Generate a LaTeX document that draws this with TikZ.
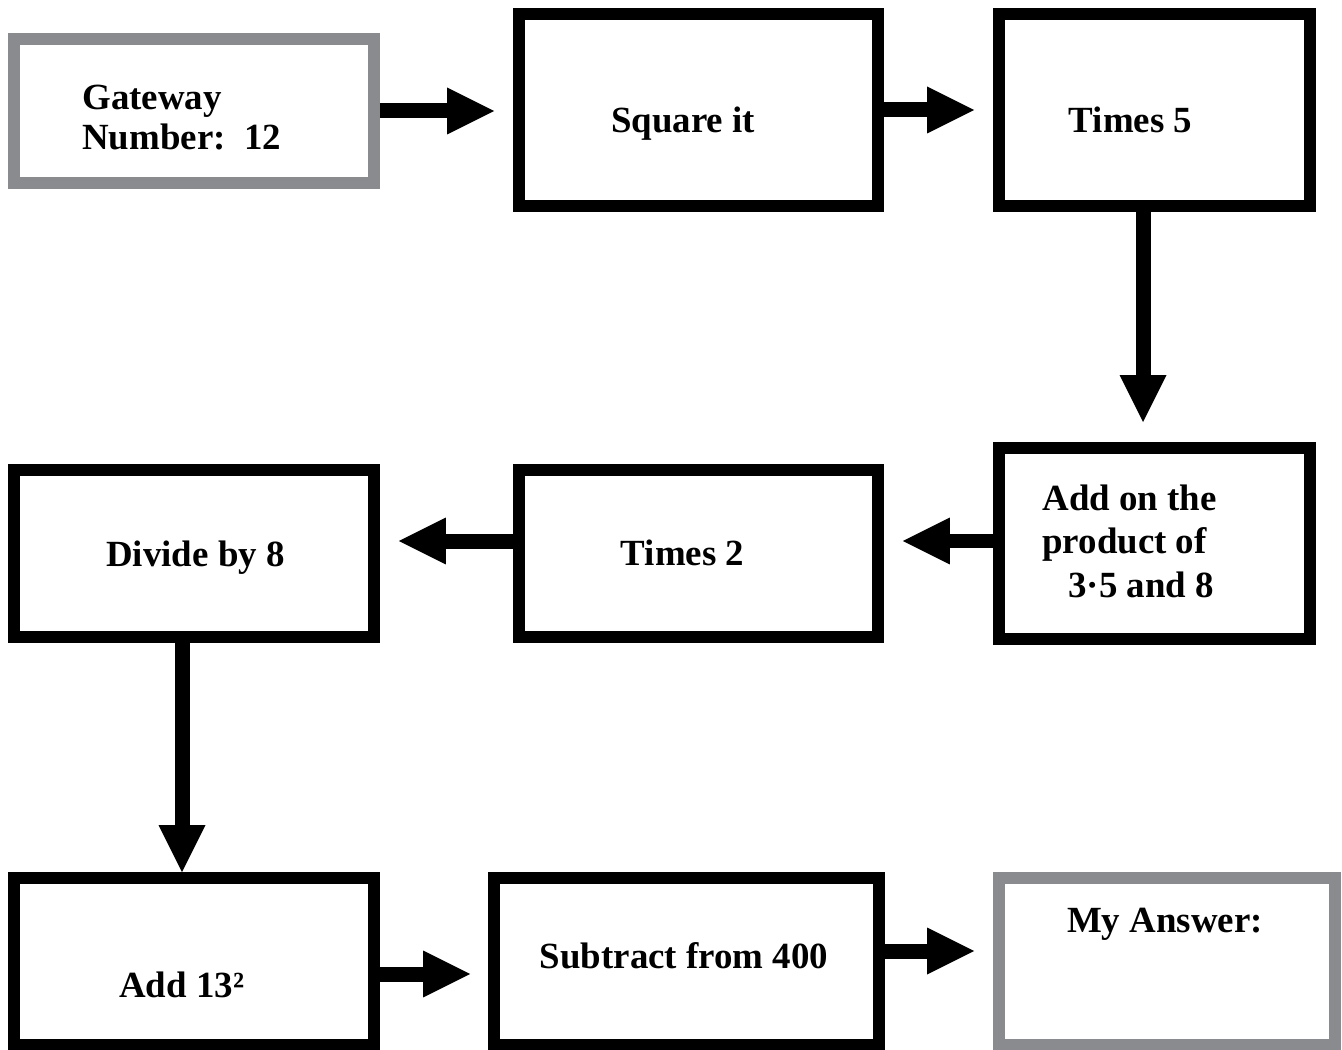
\documentclass[tikz,border=0pt]{standalone}
\usepackage{fontspec}
\setmainfont{Liberation Serif}
\usetikzlibrary{arrows.meta}
\definecolor{framegray}{RGB}{138,139,143}

\begin{document}
\begin{tikzpicture}[x=0.02cm,y=-0.02cm,
		box/.style={rectangle,draw=black,line width=0.24cm,inner sep=0pt,minimum height=3.34cm},
		greybox/.style={box,draw=framegray},
		txt/.style={inner sep=0pt,font=\bfseries\fontsize{21}{23}\selectfont,align=left},
		flow/.style={line width=0.3cm,-{Triangle[length=0.94cm,width=0.94cm,line width=0pt]},shorten >=0.38cm}]
	\useasboundingbox (0,0) rectangle (1342,1050);

	% boxes
	\node[greybox,minimum width=7.2cm,minimum height=2.88cm]	(gateway)		at (194,111)		{};
	\node[box,minimum width=7.18cm,minimum height=3.84cm]		(square)		at (698.5,110)		{};
	\node[box,minimum width=6.22cm,minimum height=3.84cm]		(timesfive)		at (1154.5,110)		{};
	\node[box,minimum width=6.22cm,minimum height=3.82cm]		(addon)			at (1154.5,543.5)	{};
	\node[box,minimum width=7.18cm]								(timestwo)		at (698.5,553.5)	{};
	\node[box,minimum width=7.2cm]								(divide)		at (194,553.5)		{};
	\node[box,minimum width=7.2cm]								(addthirteen)	at (194,961.5)		{};
	\node[box,minimum width=7.7cm]								(subtract)		at (686.5,961.5)	{};
	\node[greybox,minimum width=6.72cm]							(answer)		at (1167,961.5)		{};

	% texts (base = last line)
	\node[txt,anchor=base west]	(gatewaytxt)		at (82,150)		{Gateway\\Number:\ \ 12};
	\node[txt,anchor=base]		(squaretxt)			at (683,133)	{Square it};
	\node[txt,anchor=base]		(timesfivetxt)		at (1130.5,133)	{Times 5};
	\node[txt,anchor=base west,font=\bfseries\fontsize{21}{24.6}\selectfont]
								(addontxt)			at (1042,597)	{Add on the\\product of\\\hspace*{0.52cm}3·5 and 8};
	\node[txt,anchor=base]		(timestwotxt)		at (682.5,565)	{Times 2};
	\node[txt,anchor=base]		(dividetxt)			at (195.5,566)	{Divide by 8};
	\node[txt,anchor=base west]	(addthirteentxt)	at (119,997)	{Add 13²};
	\node[txt,anchor=base]		(subtracttxt)		at (684,968)	{Subtract from 400};
	\node[txt,anchor=base]		(answertxt)			at (1165,932)	{My Answer:};

	% arrows
	\draw[flow] (gateway.east) -- (gateway.east -| square.west);
	\draw[flow] (square.east) -- (timesfive.west);
	\draw[flow,shorten >=0.4cm] ([xshift=-0.23cm]timesfive.south) -- ([xshift=-0.23cm]addon.north);
	\draw[flow] ([yshift=0.05cm]addon.west) -- ([yshift=0.05cm]addon.west -| timestwo.east);
	\draw[flow] ([yshift=0.25cm]timestwo.west) -- ([yshift=0.25cm]timestwo.west -| divide.east);
	\draw[flow,shorten >=0pt] ([xshift=-0.24cm]divide.south) -- ([xshift=-0.24cm]addthirteen.north);
	\draw[flow,shorten >=0.36cm] ([yshift=-0.25cm]addthirteen.east) -- ([yshift=-0.25cm]addthirteen.east -| subtract.west);
	\draw[flow] ([yshift=0.21cm]subtract.east) -- ([yshift=0.21cm]subtract.east -| answer.west);
\end{tikzpicture}
\end{document}
